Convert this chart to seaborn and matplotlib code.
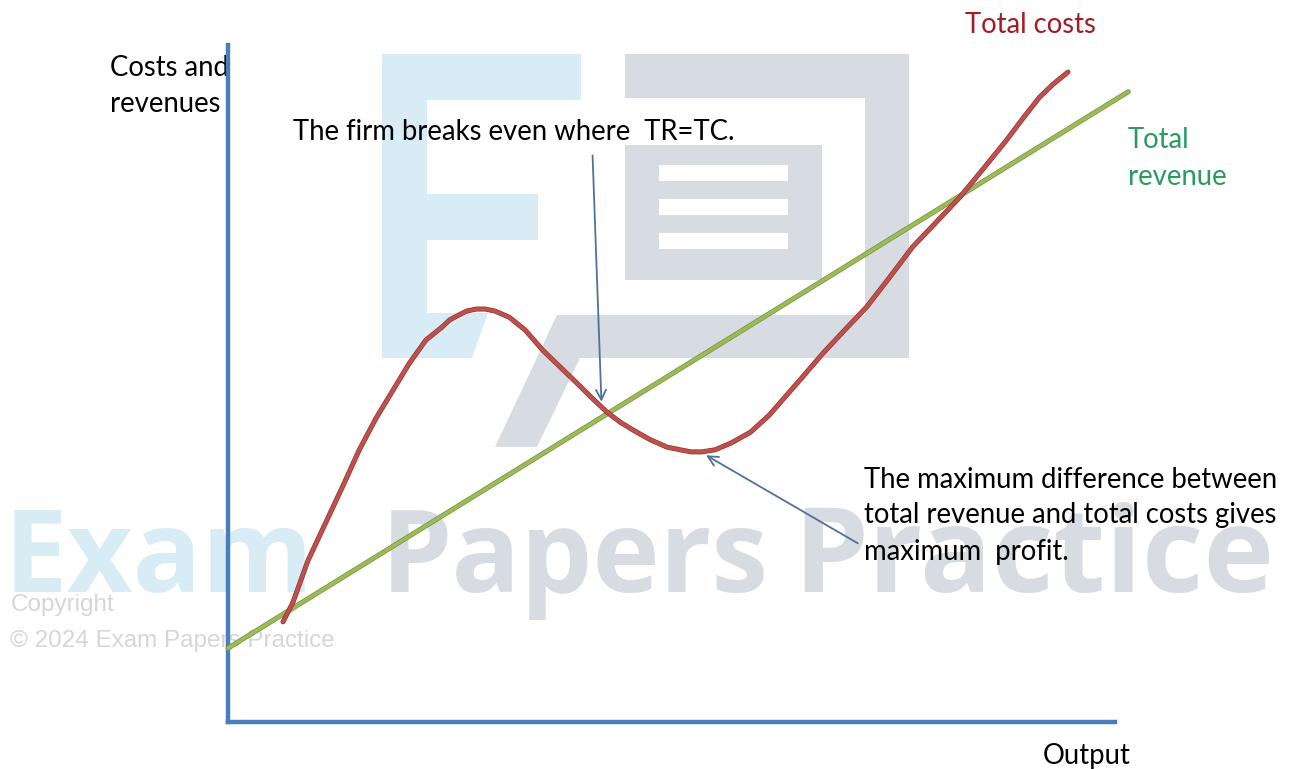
import numpy as np
import pandas as pd
import seaborn as sns
import matplotlib.pyplot as plt
import matplotlib.patheffects as pe
from matplotlib.patches import Polygon, Rectangle

sns.set_theme(style="white")
plt.rcParams['font.family'] = ['Lato', 'DejaVu Sans']

# ------------------------------------------------------------
# data (output 0-100, costs/revenues 0-100)
# ------------------------------------------------------------
tc_output = [6.2, 7.3, 9.0, 11.0, 13.0, 14.8, 16.7, 18.6, 20.4, 22.3, 24.1, 25.0, 26.0,
             26.9, 28.0, 29.0, 30.1, 31.7, 33.5, 35.5, 37.4, 39.3, 41.0, 42.7, 44.2,
             45.7, 47.6, 49.5, 51.0, 52.2, 53.4, 54.9, 56.7, 58.9, 61.0, 62.2, 64.6,
             67.1, 69.6, 72.0, 74.6, 77.2, 79.9, 82.5, 85.2, 87.8, 89.7, 91.5, 93.1, 94.7]
tc_values = [14.8, 17.6, 23.8, 29.4, 35.0, 40.2, 44.9, 49.0, 52.9, 56.4, 58.3, 59.4, 60.1,
             60.7, 61.0, 61.0, 60.7, 59.8, 57.9, 54.9, 52.5, 50.1, 47.9, 45.8, 44.3,
             43.1, 41.7, 40.6, 40.2, 39.9, 39.9, 40.2, 41.2, 42.8, 45.3, 47.1, 50.7,
             54.5, 58.0, 61.3, 65.7, 70.2, 73.9, 77.5, 81.8, 86.0, 89.3, 92.3, 94.3, 96.0]

tr_output = [0.0, 101.5]
tr_values = [10.9, 93.1]

breakeven_tail, breakeven_head = (41.1, 83.7), (42.1, 47.3)
profit_tail, profit_head = (71.0, 26.4), (53.9, 39.4)

W, H = 1296, 769
fig = plt.figure(figsize=(W / 100, H / 100), dpi=100)

# background layer in pixel units: logo + watermark + labels
bg = fig.add_axes([0, 0, 1, 1])
bg.set_xlim(0, W)
bg.set_ylim(H, 0)
bg.axis("off")

BLUE_WM = "#D7ECF5"
GREY_WM = "#D6DCE1"

e_shape = [(382, 54), (581, 54), (581, 100), (427, 100), (427, 194), (538, 194),
           (538, 240), (427, 240), (427, 313), (488, 313), (472, 358), (382, 358)]
bg.add_patch(Polygon(e_shape, closed=True, fc=BLUE_WM, ec="none", zorder=0))
box_shape = [(625, 54), (909, 54), (909, 358), (580, 358), (537, 447), (495, 447),
             (557, 315), (865, 315), (865, 98), (625, 98)]
bg.add_patch(Polygon(box_shape, closed=True, fc=GREY_WM, ec="none", zorder=0))
bg.add_patch(Rectangle((625, 145), 197, 135, fc=GREY_WM, ec="none", zorder=0))
for y0 in (165, 199, 233):
    bg.add_patch(Rectangle((659, y0), 129, 16, fc="white", ec="none", zorder=0))

WM = 82
bg.text(4, 592, "Exam", fontsize=WM, fontweight="bold", color=BLUE_WM,
        family="Open Sans", va="baseline", zorder=0)
bg.text(381, 592, "Papers", fontsize=WM, fontweight="bold", color=GREY_WM,
        family="Open Sans", va="baseline", zorder=0)
bg.text(793, 592, "Practice", fontsize=WM + 4, fontweight="bold", color=GREY_WM,
        family="Open Sans", va="baseline", zorder=0)
bg.text(11, 611, "Copyright", fontsize=17.5, color="#D6D6D6",
        family="Liberation Sans", va="baseline", zorder=0)
bg.text(10, 647, "\u00a9 2024 Exam Papers Practice", fontsize=17.5, color="#D6D6D6",
        family="Liberation Sans", va="baseline", zorder=0)

TXT = 19.8
bg.text(110, 76, "Costs and", fontsize=TXT, color="black", va="baseline")
bg.text(110, 112, "revenues", fontsize=TXT, color="black", va="baseline")
bg.text(293, 140, "The firm breaks even where  TR=TC.", fontsize=TXT, color="black",
        va="baseline")
bg.text(965, 33, "Total costs", fontsize=TXT, color="#A31C22", va="baseline")
bg.text(1128, 148, "Total", fontsize=TXT, color="#2A9A5E", va="baseline")
bg.text(1128, 185, "revenue", fontsize=TXT, color="#2A9A5E", va="baseline")
bg.text(1043, 764, "Output", fontsize=TXT, color="black", va="baseline")
for y0, line in zip((488, 523, 560),
                    ("The maximum difference between",
                     "total revenue and total costs gives",
                     "maximum  profit.")):
    bg.text(864, y0, line, fontsize=TXT, color="black", va="baseline")

# main chart axes
ax = fig.add_axes([228 / W, (H - 722) / H, (1115 - 228) / W, (722 - 45) / H])
ax.patch.set_alpha(0)
ax.set_xlim(0, 100)
ax.set_ylim(0, 100)
ax.set_xticks([])
ax.set_yticks([])
for side in ("top", "right"):
    ax.spines[side].set_visible(False)
for side in ("left", "bottom"):
    ax.spines[side].set_color("#4A7EBB")
    ax.spines[side].set_linewidth(3.2)

tr = pd.DataFrame({"output": tr_output, "value": tr_values})
tc = pd.DataFrame({"output": tc_output, "value": tc_values})

sns.lineplot(data=tr, x="output", y="value", ax=ax, color="#9BBB59", linewidth=2.6,
             solid_capstyle="round", clip_on=False, zorder=3,
             path_effects=[pe.Stroke(linewidth=3.6, foreground="#7A8F3E"), pe.Normal()])
sns.lineplot(data=tc, x="output", y="value", ax=ax, color="#C0504D", linewidth=2.6,
             sort=False, solid_capstyle="round", solid_joinstyle="round",
             clip_on=False, zorder=4,
             path_effects=[pe.Stroke(linewidth=3.6, foreground="#8E3431"), pe.Normal()])
ax.set_xlabel("")
ax.set_ylabel("")

arrow_kw = dict(arrowstyle="->,head_length=0.6,head_width=0.3", color="#50719A", lw=1.3,
                shrinkA=0, shrinkB=0)
ax.annotate("", xy=breakeven_head, xytext=breakeven_tail,
            arrowprops=arrow_kw, annotation_clip=False, zorder=5)
ax.annotate("", xy=profit_head, xytext=profit_tail,
            arrowprops=arrow_kw, annotation_clip=False, zorder=5)

fig.savefig("out.png", dpi=100)
